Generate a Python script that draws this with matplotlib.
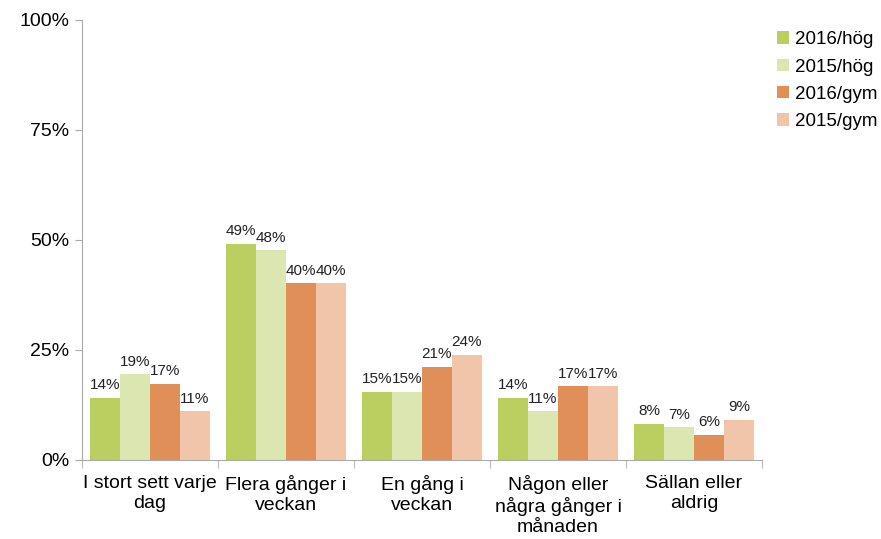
import matplotlib
matplotlib.use("Agg")
import matplotlib.pyplot as plt
import numpy as np

plt.rcParams['font.family'] = ['Liberation Sans', 'DejaVu Sans']

categories = ["I stort sett varje\ndag", "Flera gånger i\nveckan", "En gång i\nveckan",
              "Någon eller\nnågra gånger i\nmånaden", "Sällan eller\naldrig"]
series_names = ["2016/hög", "2015/hög", "2016/gym", "2015/gym"]
v2016_hog = [14.1, 49.1, 15.4, 14.0, 8.1]
v2015_hog = [19.4, 47.6, 15.4, 11.0, 7.4]
v2016_gym = [17.2, 40.1, 21.1, 16.7, 5.7]
v2015_gym = [11.0, 40.1, 23.8, 16.7, 9.1]
colors = ["#BACF60", "#DCE6B0", "#E08F58", "#F1C5A9"]

fig = plt.figure(figsize=(8.81, 5.39), dpi=100)
ax = fig.add_axes([0.093, 0.147, 0.772, 0.816])

x = np.arange(len(categories))
w = 0.22
series = [v2016_hog, v2015_hog, v2016_gym, v2015_gym]
for i, (vals, name, c) in enumerate(zip(series, series_names, colors)):
    pos = x + (i - 1.5) * w
    ax.bar(pos, vals, width=w, color=c, label=name, zorder=2)
    for p, v in zip(pos, vals):
        ax.text(p, v + 1.3, f"{round(v)}%", ha='center', va='bottom', fontsize=11, color='#222222')

ax.set_xlim(-0.5, len(categories) - 0.5)
ax.set_ylim(0, 100)
ax.set_yticks([0, 25, 50, 75, 100])
ax.set_yticklabels([f"{t}%" for t in [0, 25, 50, 75, 100]], fontsize=14)
ax.set_xticks(x)
ax.set_xticklabels(categories, fontsize=14, linespacing=1.2)
ax.tick_params(axis='x', length=0, pad=11)
ax.set_xticks(np.arange(-0.5, len(categories)), minor=True)
ax.tick_params(axis='x', which='minor', length=6, color='#AAAAAA')
ax.tick_params(axis='y', length=5, color='#AAAAAA', pad=4)
for s in ['top', 'right']:
    ax.spines[s].set_visible(False)
for s in ['left', 'bottom']:
    ax.spines[s].set_color('#AAAAAA')

ax.legend(loc='upper left', bbox_to_anchor=(1.005, 1.0), frameon=False, fontsize=13.5,
          handlelength=0.65, handleheight=0.65, handletextpad=0.3, labelspacing=0.55,
          borderaxespad=0.2)

fig.savefig("out.png", dpi=100)
